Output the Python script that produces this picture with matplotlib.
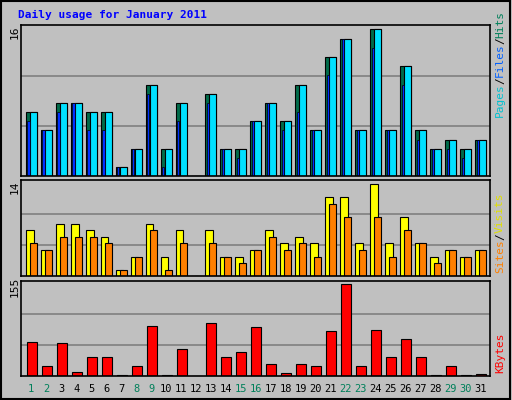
import matplotlib
matplotlib.use("Agg")
import matplotlib.pyplot as plt
import numpy as np

days = list(range(1, 32))
hits  = [7,5,8,8,7,7,1,3,10,3,8,0,9,3,3,6,8,6,10,5,13,15,5,16,5,12,5,3,4,3,4]
files = [6,5,7,8,5,5,1,3,9,1,6,0,8,3,2,6,8,5,7,5,11,15,5,14,5,10,4,3,3,2,4]
pages = [7,5,8,8,7,7,1,3,10,3,8,0,9,3,3,6,8,6,10,5,13,15,5,16,5,12,5,3,4,3,4]
visits = [7,4,8,8,7,6,1,3,8,3,7,0,7,3,3,4,7,5,6,5,12,12,5,14,5,9,5,3,4,3,4]
sites  = [5,4,6,6,6,5,1,3,7,1,5,0,5,3,2,4,6,4,5,3,11,9,4,9,3,7,5,2,4,3,4]
kbytes = [57,17,56,6,31,31,2,16,85,2,46,0,89,31,41,82,19,4,19,17,75,155,17,77,31,62,31,2,16,2,3]
weekend = [1,2,8,9,15,16,22,23,29,30]

W, H = 512, 400
bg = "#C0C0C0"
fig = plt.figure(figsize=(W/100, H/100), dpi=100, facecolor=bg)
mono = "DejaVu Sans Mono"

def ax_at(x0, y0, x1, y1):
    return fig.add_axes([x0/W, 1-y1/H, (x1-x0)/W, (y1-y0)/H])

x = np.array(days, dtype=float)
xl = (0.327, 31.61)

def style(ax, ymax, top, gridmax):
    ax.set_facecolor(bg)
    ax.set_xlim(*xl)
    ax.set_ylim(0, top)
    for f in (1/3, 2/3):
        ax.axhline(gridmax*f*1.02, color="#808080", lw=1.2, zorder=0)
    ax.set_xticks([]); ax.set_yticks([])
    for s in ax.spines.values():
        s.set_color("black"); s.set_linewidth(1.2)

ax1 = ax_at(21, 25, 490, 176.3)
style(ax1, 16, 16.49, 16)
ax1.bar(x-0.367, hits, width=0.733, align="edge", color="#006B4A", edgecolor="black", lw=0.8)
ax1.bar(x-0.1, pages, width=0.467, align="edge", color="#00E0FF", edgecolor="black", lw=0.8)
ax1.bar(x-0.273, files, width=0.17, align="edge", color="#0030FF", edgecolor="black", lw=0.5)

ax2 = ax_at(21, 180, 490, 276.3)
style(ax2, 14, 14.65, 14)
ax2.bar(x-0.367, visits, width=0.53, align="edge", color="#FFFF00", edgecolor="black", lw=0.8)
ax2.bar(x-0.1, sites, width=0.467, align="edge", color="#FF8000", edgecolor="black", lw=0.8)

ax3 = ax_at(21, 281, 490, 375.7)
style(ax3, 155, 160.6, 155)
ax3.bar(x-0.3, kbytes, width=0.667, align="edge", color="#FF0000", edgecolor="black", lw=0.8)

for d in days:
    fig.text((21 + (d - xl[0]) / (xl[1]-xl[0]) * 469) / W, 1-389/H, str(d),
             ha="center", va="center", fontsize=7.5, family=mono,
             color="#00805A" if d in weekend else "black")

fig.text(18/W, 1-15/H, "Daily usage for January 2011", fontsize=8, family=mono,
         weight="bold", color="#0000FF", va="center")
for y, lab in ((32, "16"), (187, "14"), (287, "155")):
    fig.text(15/W, 1-y/H, lab, rotation=90, fontsize=8, family=mono, ha="center", va="center")

def rlabel(yb, parts):
    y = yb
    for txt, col in parts:
        t = fig.text(500/W, 1-y/H, txt, rotation=90, fontsize=8, family=mono,
                     color=col, ha="center", va="bottom")
        y -= 6.6 * len(txt)
rlabel(117, [("Pages", "#00C0D0"), ("/", "black"), ("Files", "#0060FF"), ("/", "black"), ("Hits", "#00805A")])
rlabel(273, [("Sites", "#FF8000"), ("/", "black"), ("Visits", "#E0E000")])
rlabel(373, [("KBytes", "#FF0000")])

fig.patches.append(plt.Rectangle((0.002, 0.003), 0.995, 0.994, transform=fig.transFigure,
                                 fill=False, edgecolor="black", lw=1.5))
fig.savefig("out.png", dpi=100, facecolor=bg)
